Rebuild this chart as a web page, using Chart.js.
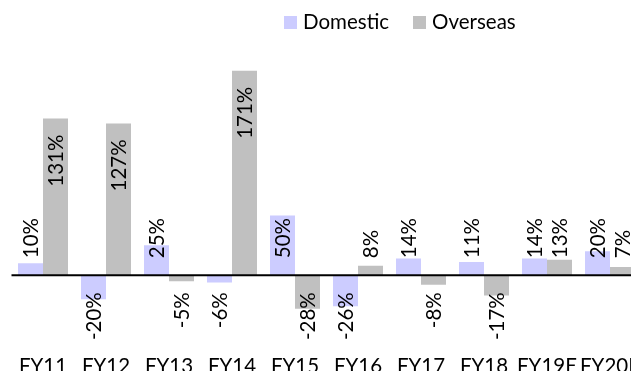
<!DOCTYPE html>
<html lang="en">
<head>
<meta charset="UTF-8">
<title>Domestic vs Overseas growth</title>
<script src="https://cdn.jsdelivr.net/npm/chart.js"></script>
<style>
    html, body {
        margin: 0;
        padding: 0;
        width: 631px;
        height: 371px;
        overflow: hidden;
        background: #ffffff;
        font-family: Lato, sans-serif;
    }

    #wrap {
        position: relative;
        width: 650px;
        height: 385px;
    }

    #legend {
        position: absolute;
        top: 11px;
        left: 284px;
        font-size: 20.5px;
        line-height: 20px;
        color: #000;
        white-space: nowrap;
    }

    .item {
        display: inline-block;
    }

    .item + .item {
        margin-left: 24px;
    }

    .box {
        display: inline-block;
        width: 13px;
        height: 13px;
        margin-right: 6px;
        vertical-align: baseline;
    }
</style>
</head>
<body>
<div id="wrap">
    <canvas id="growthChart" width="650" height="385"></canvas>
    <div id="legend"></div>
</div>

<script>
    const years = ['FY11', 'FY12', 'FY13', 'FY14', 'FY15', 'FY16', 'FY17', 'FY18', 'FY19E', 'FY20E'];
    const domestic = [10, -20, 25, -6, 50, -26, 14, 11, 14, 20];
    const overseas = [131, 127, -5, 171, -28, 8, -8, -17, 13, 7];

    const seriesNames = ['Domestic', 'Overseas'];
    const seriesColors = ['#ccccff', '#c0c0c0'];

    const FONT = 'Lato, sans-serif';
    const FONT_SIZE = 20.5;

    // legend drawn as html so it can sit right of centre like the original
    const legend = document.getElementById('legend');
    seriesNames.forEach((name, i) => {
        const item = document.createElement('span');
        item.className = 'item';
        item.innerHTML = '<span class="box" style="background:' + seriesColors[i] + '"></span>' + name;
        legend.appendChild(item);
    });

    // black line at zero across the plot
    const zeroLine = {
        id: 'zeroLine',
        afterDatasetsDraw(chart) {
            const { ctx, chartArea, scales } = chart;
            const y = scales.y.getPixelForValue(0);
            ctx.save();
            ctx.strokeStyle = '#000000';
            ctx.lineWidth = 2;
            ctx.beginPath();
            ctx.moveTo(chartArea.left, y);
            ctx.lineTo(chartArea.right, y);
            ctx.stroke();
            ctx.restore();
        }
    };

    // rotated value labels: inside the end for tall bars, else a fixed gap from zero
    const valueLabels = {
        id: 'valueLabels',
        afterDatasetsDraw(chart) {
            const { ctx, scales } = chart;
            const zero = scales.y.getPixelForValue(0);
            ctx.save();
            ctx.font = FONT_SIZE + 'px ' + FONT;
            ctx.fillStyle = '#000000';
            ctx.textBaseline = 'alphabetic';
            chart.data.datasets.forEach((ds, di) => {
                chart.getDatasetMeta(di).data.forEach((bar, i) => {
                    const v = ds.data[i];
                    const text = v + '%';
                    let y, align;
                    if (v >= 0 && zero - bar.y > 100) {
                        y = bar.y + 16;
                        align = 'right';
                    } else if (v >= 0) {
                        y = zero - 17;
                        align = 'left';
                    } else {
                        y = zero + 17;
                        align = 'right';
                    }
                    ctx.save();
                    ctx.translate(bar.x + 7.3, y);
                    ctx.rotate(-Math.PI / 2);
                    ctx.textAlign = align;
                    ctx.fillText(text, 0, 0);
                    ctx.restore();
                });
            });
            ctx.restore();
        }
    };

    new Chart(document.getElementById('growthChart'), {
        type: 'bar',
        data: {
            labels: years,
            datasets: seriesNames.map((name, i) => ({
                label: name,
                data: i === 0 ? domestic : overseas,
                backgroundColor: seriesColors[i],
                borderWidth: 0,
                categoryPercentage: 0.794,
                barPercentage: 1
            }))
        },
        options: {
            responsive: false,
            animation: false,
            layout: {
                padding: { top: 60, left: 11.5, right: 8.5, bottom: 0 }
            },
            plugins: {
                legend: { display: false },
                tooltip: { enabled: false }
            },
            scales: {
                x: {
                    grid: { display: false, drawTicks: false },
                    border: { display: false },
                    ticks: {
                        padding: 6.7,
                        color: '#000000',
                        font: { family: FONT, size: FONT_SIZE },
                        maxRotation: 0,
                        autoSkip: false
                    }
                },
                y: {
                    display: false,
                    min: -60,
                    max: 180
                }
            }
        },
        plugins: [zeroLine, valueLabels]
    });
</script>
</body>
</html>
